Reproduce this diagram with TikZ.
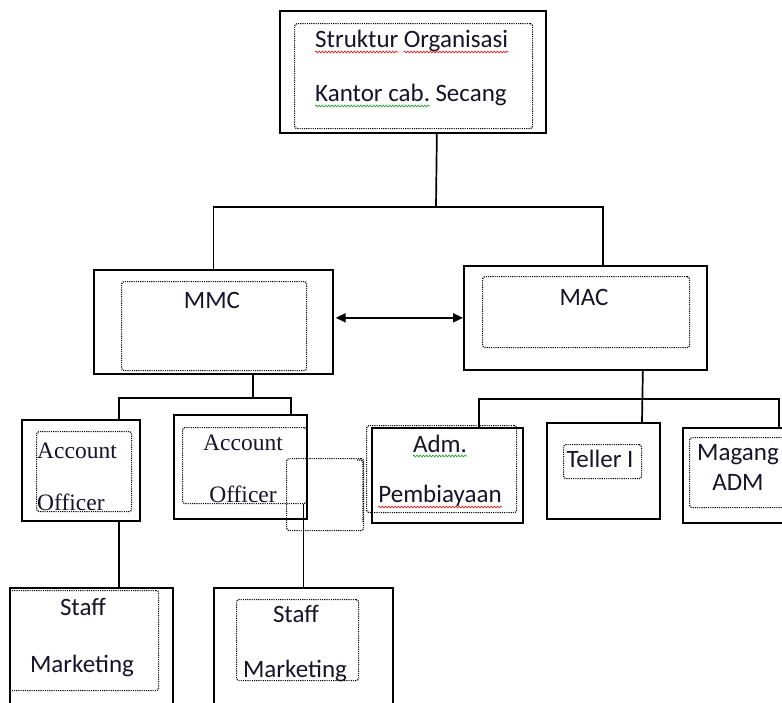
\documentclass[tikz,border=0pt]{standalone}
\usepackage{fontspec}
\setmainfont{Carlito}
\newfontfamily\timesfont{Liberation Serif}
\usetikzlibrary{positioning, arrows.meta, decorations.pathmorphing}
\definecolor{ink}{HTML}{14142A}
\definecolor{spellred}{HTML}{E02020}
\definecolor{spellgreen}{HTML}{2FA02F}

\begin{document}
\begin{tikzpicture}[
  x=1pt, y=-1pt,
  font=\fontsize{25}{28}\selectfont,
  box/.style={draw=black, line width=1.7pt, inner sep=0pt, anchor=north west},
  dotbox/.style={draw=black, line width=1.2pt, dash pattern=on 1.1pt off 1.1pt,
                 rounded corners=2.5pt, inner sep=0pt, anchor=north west},
  lbl/.style={inner sep=0pt, text=ink, anchor=base},
  serif/.style={lbl, font=\fontsize{23.5}{28}\timesfont},
  conn/.style={line width=1.7pt},
  arr/.style={{Triangle[length=10pt, width=9pt]}-{Triangle[length=10pt, width=9pt]},
              line width=1.7pt},
  spell/.style={decorate, decoration={snake, amplitude=0.9pt, segment length=3.2pt},
                line width=0.7pt}
]
\useasboundingbox (0,0) rectangle (782,702);
\clip (0,0) rectangle (782,702);
% top box
\node[box, minimum width=266pt, minimum height=122pt] (top) at (279,10) {};
\node[dotbox, minimum width=238pt, minimum height=105pt] (topIn) at (294,23) {};
\node[lbl, anchor=base west] (struk) at (315,47) {Struktur};
\node[lbl, base right=5pt of struk] (org) {Organisasi};
\node[lbl, anchor=base west] (kant) at (315,101) {Kantor cab.};
\node[lbl, base right=5pt of kant] (sec) {Secang};
\draw[spell, spellred] ([yshift=-5pt]struk.base west) -- ([yshift=-5pt]struk.base east);
\draw[spell, spellred] ([yshift=-5pt]org.base west) -- ([yshift=-5pt]org.base east);
\draw[spell, spellgreen] ([yshift=-5pt]kant.base west) -- ([yshift=-5pt]kant.base east);
% MMC and MAC
\node[box, minimum width=239pt, minimum height=104pt] (mmc) at (93,269) {};
\node[dotbox, minimum width=185pt, minimum height=89pt] (mmcIn) at (121,281) {};
\node[lbl] (mmcT) at (212,308) {MMC};
\node[box, minimum width=243pt, minimum height=104pt] (mac) at (463,265) {};
\node[dotbox, minimum width=207pt, minimum height=71pt] (macIn) at (482,276) {};
\node[lbl] (macT) at (584,305) {MAC};
% account officers
\node[box, minimum width=118pt, minimum height=101pt] (ao1) at (21,419) {};
\node[dotbox, minimum width=95pt, minimum height=80pt] (ao1In) at (36,431) {};
\node[serif, anchor=base west] (ao1a) at (37,458) {Account};
\node[serif, anchor=base west] (ao1b) at (37,510) {Officer};
\node[box, minimum width=133pt, minimum height=104pt] (ao2) at (173,414) {};
\node[dotbox, minimum width=124pt, minimum height=76pt] (ao2In) at (182,427) {};
\node[dotbox, minimum width=77pt, minimum height=72pt] (ao2Ex) at (286,458) {};
\node[serif] (ao2a) at (243,450) {Account};
\node[serif] (ao2b) at (243,502) {Officer};
% MAC staff
\node[box, minimum width=151pt, minimum height=95pt] (adm) at (371,427) {};
\node[dotbox, minimum width=150pt, minimum height=87pt] (admIn) at (366,425) {};
\draw[dotbox] (357,460) -- (363,460) -- (363,522);
\node[lbl] (admA) at (440,452) {Adm.};
\node[lbl] (admB) at (440,502) {Pembiayaan};
\draw[spell, spellgreen] ([yshift=-4pt]admA.base west) -- ([yshift=-4pt]admA.base east);
\draw[spell, spellred] ([yshift=-5pt]admB.base west) -- ([yshift=-5pt]admB.base east);
\node[box, minimum width=113pt, minimum height=96pt] (tel) at (546,422) {};
\node[dotbox, minimum width=78pt, minimum height=34pt] (telIn) at (563,444) {};
\node[lbl] (telT) at (600,467) {Teller I};
\node[box, minimum width=120pt, minimum height=95pt] (mag) at (682,427) {};
\node[dotbox, minimum width=110pt, minimum height=70pt] (magIn) at (689,437) {};
\node[lbl] (magA) at (738,460) {Magang};
\node[lbl] (magB) at (738,490) {ADM};
% staff marketing
\node[box, minimum width=163pt, minimum height=140pt] (st1) at (9,587) {};
\node[dotbox, minimum width=149pt, minimum height=100pt] (st1In) at (9,590) {};
\node[lbl] (st1a) at (83,615) {Staff};
\node[lbl] (st1b) at (82,672) {Marketing};
\node[box, minimum width=179pt, minimum height=140pt] (st2) at (213,587) {};
\node[dotbox, minimum width=122pt, minimum height=81pt] (st2In) at (236,599) {};
\node[lbl] (st2a) at (296,622) {Staff};
\node[lbl] (st2b) at (295,677) {Marketing};
% connectors
\coordinate (j0) at (436,207);
\draw[conn] ([xshift=24pt]top.south) -- (j0);
\draw[conn] (mmc.north) |- (j0) -| ([xshift=17.5pt]mac.north);
\draw[arr, shorten <=2pt] (mmc.east |- mac.west) -- (mac.west);
\coordinate (j1) at (253,398);
\draw[conn] (mmc.south -| j1) -- (j1);
\draw[conn] ([xshift=38pt]ao1.north) |- (j1) -| ([xshift=50.5pt]ao2.north);
\draw[conn] ([xshift=38pt]ao1.south) -- ([xshift=38pt]ao1.south |- st1.north);
\draw[conn] ([xshift=59pt]ao2In.south) -- ([xshift=59pt]ao2In.south |- st2.north);
\coordinate (j2) at (642,399);
\draw[conn] ([xshift=57.5pt]mac.south) -- (j2 |- tel.north);
\draw[conn] ([xshift=31.5pt]adm.north) |- (j2) -| ([xshift=36pt]mag.north);
\end{tikzpicture}
\end{document}
